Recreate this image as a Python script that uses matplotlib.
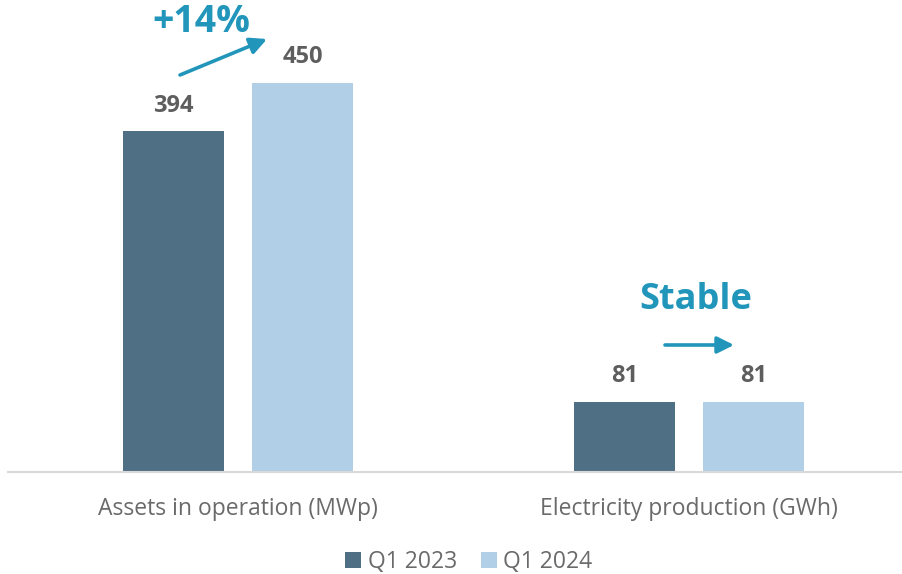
import matplotlib
matplotlib.use("Agg")
import matplotlib.pyplot as plt
import numpy as np

categories = ["Assets in operation (MWp)", "Electricity production (GWh)"]
series_names = ["Q1 2023", "Q1 2024"]
q1_2023 = [394, 81]
q1_2024 = [450, 81]
value_labels_2023 = ["394", "81"]
value_labels_2024 = ["450", "81"]
growth_label = "+14%"
stable_label = "Stable"

DARK = "#4F6F85"
LIGHT = "#B1CFE7"
ACCENT = "#2196BA"
GREY = "#5E5E5E"
LABEL_GREY = "#6A6A6A"

plt.rcParams['font.family'] = ['Open Sans', 'DejaVu Sans']

fig = plt.figure(figsize=(9.03, 5.74), dpi=100)
ax = fig.add_axes([8/903, 102/574, 895/903, 472/574])

x = np.arange(len(categories))
w = 0.224
off = 0.143
b1 = ax.bar(x - off, q1_2023, w, color=DARK, label=series_names[0])
b2 = ax.bar(x + off, q1_2024, w, color=LIGHT, label=series_names[1])

for bars, labels in ((b1, value_labels_2023), (b2, value_labels_2024)):
    for rect, lab in zip(bars, labels):
        ax.annotate(lab, (rect.get_x() + rect.get_width()/2, rect.get_height()),
                    xytext=(0, 18.5), textcoords="offset points",
                    ha="center", va="center", fontsize=17, fontweight="bold", color=GREY)

ax.set_xlim(-0.51, 1.4745)
ax.set_ylim(0, 545.7)
for s in ("left", "right", "top"):
    ax.spines[s].set_visible(False)
ax.spines["bottom"].set_color("#D9D9D9")
ax.spines["bottom"].set_linewidth(1.5)
ax.set_yticks([])
ax.set_xticks(x)
ax.set_xticklabels(categories, fontsize=16.5, color=LABEL_GREY)
ax.tick_params(axis="x", length=0, pad=18)

# Annotations
fig.text(201/903, 1 - 22/574, growth_label, ha="center", va="center",
         fontsize=27, fontweight="bold", color=ACCENT)
fig.patches.append(matplotlib.patches.FancyArrowPatch(
    (180/903, 1 - 75/574), (267/903, 1 - 39/574), transform=fig.transFigure,
    arrowstyle="-|>,head_length=10,head_width=5", mutation_scale=1,
    color=ACCENT, linewidth=2.6, shrinkA=0, shrinkB=0))
fig.text(696/903, 1 - 300/574, stable_label, ha="center", va="center",
         fontsize=26, fontweight="bold", color=ACCENT)
fig.patches.append(matplotlib.patches.FancyArrowPatch(
    (665/903, 1 - 345/574), (734/903, 1 - 345/574), transform=fig.transFigure,
    arrowstyle="-|>,head_length=10,head_width=5", mutation_scale=1,
    color=ACCENT, linewidth=2.6, shrinkA=0, shrinkB=0))

leg = fig.legend(loc="center", bbox_to_anchor=(469/903, 1 - 562/574), ncol=2,
                 frameon=False, fontsize=16.5, handlelength=0.7, handleheight=0.7,
                 handletextpad=0.3, columnspacing=1.0, labelcolor=LABEL_GREY)

fig.savefig("out.png", dpi=100)
